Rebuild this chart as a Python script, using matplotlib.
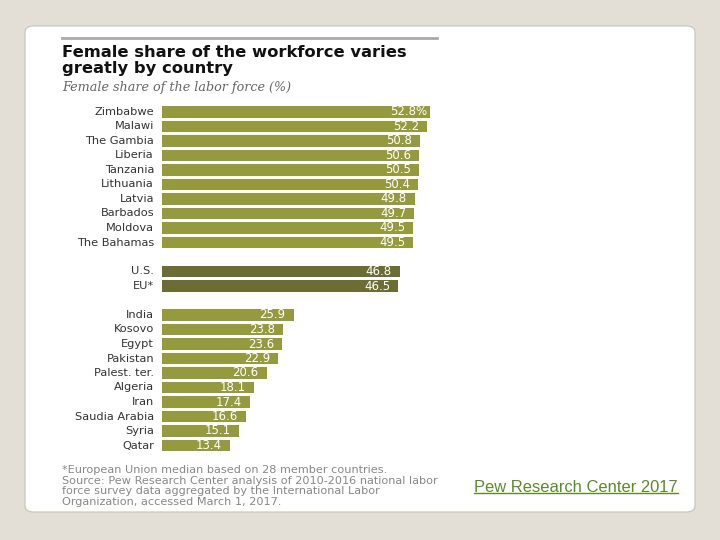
import numpy as np
import matplotlib
matplotlib.use("Agg")
import matplotlib.pyplot as plt
from matplotlib.patches import FancyBboxPatch
from matplotlib.lines import Line2D

# data
top_names = ["Zimbabwe", "Malawi", "The Gambia", "Liberia", "Tanzania",
             "Lithuania", "Latvia", "Barbados", "Moldova", "The Bahamas"]
top_vals = [52.8, 52.2, 50.8, 50.6, 50.5, 50.4, 49.8, 49.7, 49.5, 49.5]
mid_names = ["U.S.", "EU*"]
mid_vals = [46.8, 46.5]
low_names = ["India", "Kosovo", "Egypt", "Pakistan", "Palest. ter.",
             "Algeria", "Iran", "Saudia Arabia", "Syria", "Qatar"]
low_vals = [25.9, 23.8, 23.6, 22.9, 20.6, 18.1, 17.4, 16.6, 15.1, 13.4]

names = top_names + mid_names + low_names
vals = top_vals + mid_vals + low_vals
ypos = list(range(0, 10)) + [11, 12] + list(range(14, 24))
light = "#959a3f"
dark = "#6b6d33"
colors = [light] * 10 + [dark] * 2 + [light] * 10

W, H = 720, 540
fig = plt.figure(figsize=(7.2, 5.4), dpi=100)
fig.patch.set_facecolor("#e3dfd6")

# white card
card = FancyBboxPatch((25 / W, (H - 512) / H), 670 / W, 486 / H,
                      boxstyle="round,pad=0,rounding_size=0.012",
                      transform=fig.transFigure, facecolor="white",
                      edgecolor="#c8c4bc", linewidth=0.8, zorder=-5)
fig.add_artist(card)

# top rule
fig.add_artist(Line2D([62 / W, 437 / W], [(H - 38) / H] * 2,
                      color="#aaaaaa", linewidth=2, transform=fig.transFigure))

fig.text(62 / W, (H - 45) / H, "Female share of the workforce varies\ngreatly by country",
         fontsize=11.8, fontweight="bold", color="#111111", va="top",
         linespacing=1.1, family="DejaVu Sans")
fig.text(62 / W, (H - 87) / H, "Female share of the labor force (%)",
         fontsize=9.2, style="italic", color="#666666", va="center",
         family="DejaVu Serif")

# bars
step = 14.5
ax = fig.add_axes([162 / W, (H - (112 + 23.5 * step)) / H, 300 / W, 24 * step / H])
ax.barh(ypos, vals, height=0.76, color=colors)
ax.set_xlim(0, 300 / 5.08)
ax.set_ylim(23.5, -0.5)
ax.axis("off")

for i, (n, v, y) in enumerate(zip(names, vals, ypos)):
    ax.annotate(n, (0, y), xytext=(-8, 0), textcoords="offset pixels",
                ha="right", va="center", fontsize=8.2, color="#333333")
    label = f"{v}%" if i == 0 else f"{v}"
    off = -3 if i == 0 else -8
    ax.annotate(label, (v, y), xytext=(off, 0), textcoords="offset pixels",
                ha="right", va="center", fontsize=8.5, color="white")

foot = ("*European Union median based on 28 member countries.\n"
        "Source: Pew Research Center analysis of 2010-2016 national labor\n"
        "force survey data aggregated by the International Labor\n"
        "Organization, accessed March 1, 2017.")
fig.text(62 / W, (H - 465) / H, foot, fontsize=8.1, color="#888888",
         va="top", linespacing=1.07)

link = fig.text(474 / W, (H - 487) / H, "Pew Research Center 2017",
                fontsize=11.9, color="#5b8a2c", va="center",
                family="Liberation Sans")
fig.canvas.draw()
bb = link.get_window_extent().transformed(fig.transFigure.inverted())
fig.add_artist(Line2D([bb.x0, bb.x1], [bb.y0 + 0.002] * 2, color="#5b8a2c",
                      linewidth=1, transform=fig.transFigure))

fig.savefig("out.png", dpi=100, facecolor=fig.get_facecolor())
